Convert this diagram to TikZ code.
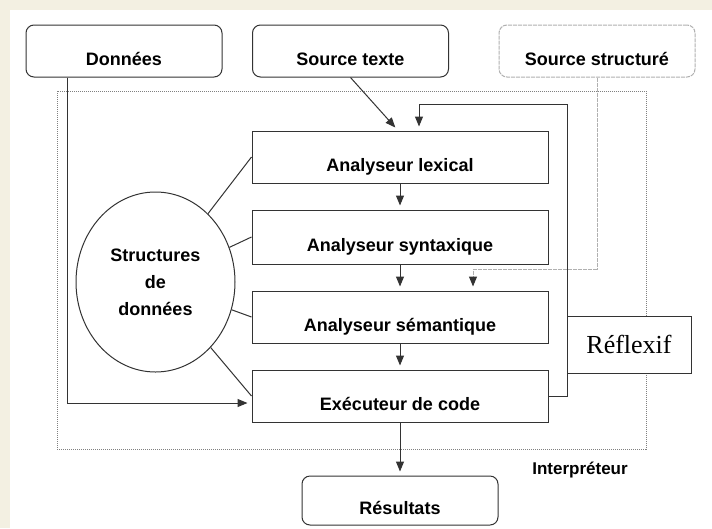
\documentclass[tikz,border=0pt]{standalone}
\usepackage{fontspec}
\setmainfont{Liberation Sans}
\newfontfamily\seriffont{Liberation Serif}
\usetikzlibrary{arrows.meta,shapes.geometric,calc}
\definecolor{creme}{HTML}{F3F0E2}
\definecolor{trait}{HTML}{333333}
\definecolor{gristrait}{HTML}{B0B0B0}
\tikzset{
    block/.style = {draw=trait, rectangle, line width=1pt,
        minimum height=52pt,
        minimum width=296pt,
        text height=28pt, text depth=0pt,
        font=\fontsize{18}{20}\selectfont\bfseries},
    source/.style = {block, rounded corners=8pt, minimum width=196pt},
    sourcegris/.style = {source, draw=gristrait, dash pattern=on 4pt off 1pt},
    arrow/.style={draw=trait, line width=1pt, -{Triangle[length=10pt,width=8pt,color=trait]}, shorten >=4pt},
    lien/.style={draw=trait, line width=1pt},
    pointille/.style={draw=gristrait, line width=1pt, dash pattern=on 4pt off 1pt}
}
\begin{document}
\begin{tikzpicture}[x=1pt,y=-1pt]
              \fill[creme] (0,0) rectangle (712,528);
              \fill[white] (10,10) rectangle (712,528);
              \useasboundingbox (0,0) rectangle (712,528);
              \draw[gray, line width=0.8pt, dash pattern=on 1pt off 1pt] (57,91) rectangle (646,449);
                \node[source] (donnees) at (124,51) {Données};
                \node[source] (srctexte) at (350.5,51) {Source texte};
                \node[sourcegris] (srcstruct) at (597,51) {Source structuré};
                \node[block] (lexical) at (400,157) {Analyseur lexical};
                \node[block, minimum height=54pt] (syntax) at (400,237) {Analyseur syntaxique};
                \node[block] (sem) at (400,317) {Analyseur sémantique};
                \node[block] (exec) at (400,396) {Exécuteur de code};
                \node[draw=trait, ellipse, line width=1pt, minimum width=159pt, minimum height=180pt,
                      align=center, inner sep=0pt, font=\fontsize{18}{27}\selectfont\bfseries]
                      (sd) at (155.5,282) {Structures\\de\\données};
                \node[source, minimum height=49pt] (resultats) at (400,500.5) {Résultats};
                \node[font=\fontsize{17}{20}\selectfont\bfseries] (interp) at (580,470) {Interpréteur};
                \coordinate (fbk) at (567,104);
                \draw [arrow] (donnees.south west) ++(42,0) |- ([yshift=-7pt]exec.west);
                \draw [arrow] (srctexte.south) -- ([xshift=-2pt]lexical.north);
                \draw [arrow] (exec.east) -| (fbk) -| ([xshift=19pt]lexical.north);
                \draw [pointille] (srcstruct.south) -- ++(0,192) coordinate (coude);
                \draw [pointille, arrow, draw=gristrait] (coude) -| ([xshift=73pt]sem.north);
                \node[draw=trait, line width=1pt, fill=white, minimum width=124pt, minimum height=57pt,
                      font=\seriffont\fontsize{26}{30}\selectfont] (reflexif) at (629,344.5) {Réflexif};
                \draw [arrow] (lexical) -- (syntax);
                \draw [arrow] (syntax) -- (sem);
                \draw [arrow] (sem) -- (exec);
                \draw [arrow] (exec) -- (resultats);
                \draw [lien] (sd) -- (lexical.west);
                \draw [lien] (sd) -- (syntax.west);
                \draw [lien] (sd) -- (sem.west);
                \draw [lien] (sd) -- (exec.west);
            \end{tikzpicture}
\end{document}
